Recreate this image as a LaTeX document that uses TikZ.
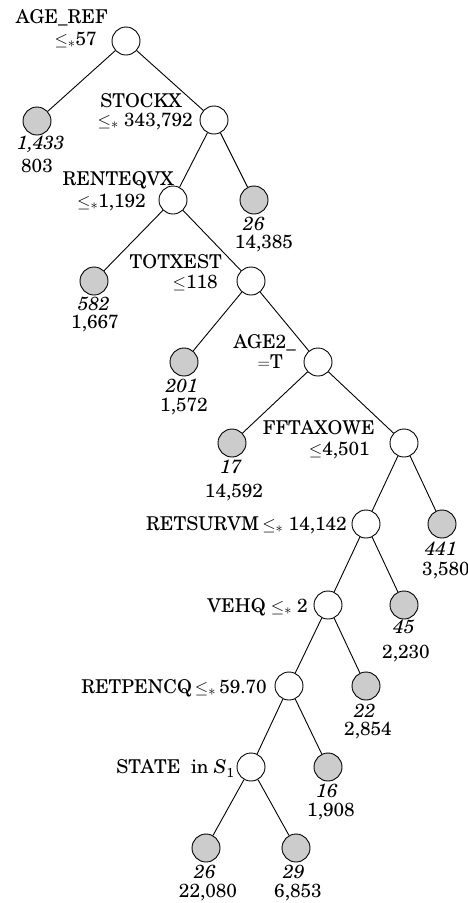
\documentclass[tikz,border=0pt]{standalone}
\usepackage[T1]{fontenc}
\usepackage{newcent}
\begin{document}
\begin{tikzpicture}[x=1pt,y=-1pt,
  font=\fontsize{19}{23}\selectfont,
  split/.style={circle,draw,fill=white,minimum size=28pt,inner sep=0pt,line width=0.9pt},
  leaf/.style={split,fill=black!20},
  edge/.style={line width=0.9pt},
  lab/.style={anchor=base east,inner sep=0pt,text height=0.7em,text depth=0.1em},
  cnt/.style={anchor=base,inner sep=0pt,text height=0.7em,text depth=0.1em,font=\fontsize{19}{23}\selectfont\itshape},
  num/.style={anchor=base,inner sep=0pt,text height=0.7em,text depth=0.1em}]
\useasboundingbox (0,0) rectangle (467,903);

% split nodes and leaves
\node[split] (n1)  at (126,41)  {};
\node[leaf]  (l1)  at (37,121)  {};
\node[split] (n2)  at (214,120) {};
\node[split] (n3)  at (173,200) {};
\node[leaf]  (l2)  at (254,200) {};
\node[leaf]  (l3)  at (94,281)  {};
\node[split] (n4)  at (251,281) {};
\node[leaf]  (l4)  at (184,362) {};
\node[split] (n5)  at (318,362) {};
\node[leaf]  (l5)  at (232,443) {};
\node[split] (n6)  at (404,443) {};
\node[split] (n7)  at (366,524) {};
\node[leaf]  (l6)  at (442,524) {};
\node[split] (n8)  at (328,605) {};
\node[leaf]  (l7)  at (404,605) {};
\node[split] (n9)  at (289,686) {};
\node[leaf]  (l8)  at (366,686) {};
\node[split] (n10) at (251,767) {};
\node[leaf]  (l9)  at (328,767) {};
\node[leaf]  (l10) at (206,848) {};
\node[leaf]  (l11) at (296,848) {};

% branches
\foreach \a/\b in {n1/l1,n1/n2,n2/n3,n2/l2,n3/l3,n3/n4,n4/l4,n4/n5,n5/l5,n5/n6,
                   n6/n7,n6/l6,n7/n8,n7/l7,n8/n9,n8/l8,n9/n10,n9/l9,n10/l10,n10/l11}
  \draw[edge] (\a) -- (\b);

% split conditions
\node[lab] (t1a) at (108,23)  {AGE\_REF};
\node[lab] (t1b) at (97,45)   {$\leq_*$57};
\node[lab] (t2a) at (182,107) {STOCKX};
\node[lab] (t2b) at (193,126) {$\leq_*$ 343,792};
\node[lab] (t3a) at (174,185) {RENTEQVX};
\node[lab] (t3b) at (146,207) {$\leq_*$1,192};
\node[lab] (t4a) at (222,268) {TOTXEST};
\node[lab] (t4b) at (218,288) {$\leq$118};
\node[lab] (t5a) at (296,348) {AGE2\_};
\node[lab] (t5b) at (283,368) {$=$T};
\node[lab] (t6a) at (375,434) {FFTAXOWE};
\node[lab] (t6b) at (370,455) {$\leq$4,501};
\node[lab] (t7)  at (347,530) {RETSURVM\,$\leq_*$ 14,142};
\node[lab] (t8)  at (308,612) {VEHQ $\leq_*$ 2};
\node[lab] (t9)  at (267,693) {RETPENCQ\,$\leq_*$\,59.70};
\node[lab] (t10) at (234,773) {STATE\ \ in \textit{S}\raisebox{-0.25em}{\fontsize{13}{15}\selectfont 1}};

% leaf sizes and values
\node[cnt] (c1)  at (41,149)  {1,433};  \node[num] (v1)  at (37,172)  {803};
\node[cnt] (c2)  at (254,230) {26};     \node[num] (v2)  at (264,248) {14,385};
\node[cnt] (c3)  at (94,310)  {582};    \node[num] (v3)  at (95,328)  {1,667};
\node[cnt] (c4)  at (182,392) {201};    \node[num] (v4)  at (184,411) {1,572};
\node[cnt] (c5)  at (231,473) {17};     \node[num] (v5)  at (234,497) {14,592};
\node[cnt] (c6)  at (441,555) {441};    \node[num] (v6)  at (446,575) {3,580};
\node[cnt] (c7)  at (404,633) {45};     \node[num] (v7)  at (406,658) {2,230};
\node[cnt] (c8)  at (365,717) {22};     \node[num] (v8)  at (368,735) {2,854};
\node[cnt] (c9)  at (327,797) {16};     \node[num] (v9)  at (331,816) {1,908};
\node[cnt] (c10) at (205,878) {26};     \node[num] (v10) at (208,897) {22,080};
\node[cnt] (c11) at (294,878) {29};     \node[num] (v11) at (298,897) {6,853};
\end{tikzpicture}
\end{document}
